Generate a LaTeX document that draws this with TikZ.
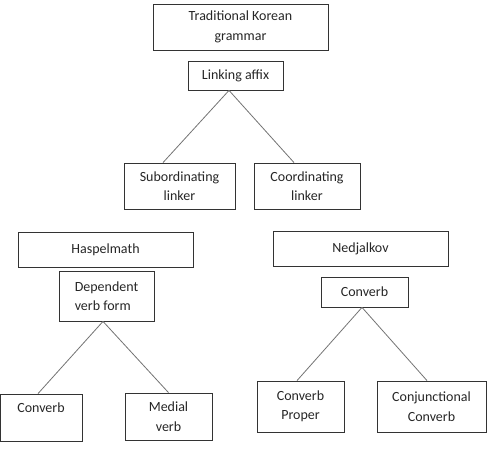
\documentclass[tikz,border=0pt]{standalone}
\usepackage{fontspec}
\setmainfont{Carlito}
\usetikzlibrary{calc}
\begin{document}
\begin{tikzpicture}[x=1pt,y=-1pt,
  box/.style={draw=black!80,line width=0.8pt,inner sep=0pt,align=center,
    font=\fontsize{14}{19.5}\selectfont,text=black!85},
  link/.style={draw=black!55,line width=0.8pt}]
\useasboundingbox (0,0) rectangle (492,449);
\node[box,minimum width=175pt,minimum height=46pt] (tkg) at (240.5,27) {Traditional Korean\\grammar};
\node[box,minimum width=95pt,minimum height=29pt] (la) at (235.5,75.5) {Linking affix};
\node[box,minimum width=111pt,minimum height=46pt] (sub) at (179.5,186) {Subordinating\\linker};
\node[box,minimum width=106pt,minimum height=46pt] (coo) at (307,186) {Coordinating\\linker};
\node[box,minimum width=175pt,minimum height=35pt] (hasp) at (105.5,249.5) {Haspelmath};
\node[box,align=left,minimum width=95pt,minimum height=50pt] (dvf) at (106.5,296) {Dependent\\verb form};
\node[box,minimum width=82pt,minimum height=47pt] (cv1) at (41,417.5) {Converb\\\phantom{x}};
\node[box,minimum width=87pt,minimum height=47pt] (med) at (168.5,416.5) {Medial\\verb};
\node[box,minimum width=175pt,minimum height=35pt] (ned) at (360.5,248.5) {Nedjalkov};
\node[box,minimum width=87pt,minimum height=30pt] (cv2) at (364.5,292) {Converb};
\node[box,minimum width=87pt,minimum height=51pt] (cp) at (300.5,406.5) {Converb\\Proper};
\node[box,minimum width=109pt,minimum height=51pt] (cc) at (431.5,406.5) {Conjunctional\\Converb};
\draw[link] ([xshift=-6.5pt]la.south) -- ([xshift=-16.5pt]sub.north);
\draw[link] ([xshift=-6.5pt]la.south) -- ([xshift=-13pt]coo.north);
\draw[link] ([xshift=-3.5pt]dvf.south) -- ([xshift=-3pt]cv1.north);
\draw[link] ([xshift=-3.5pt]dvf.south) -- (med.north);
\draw[link] ([xshift=-2.5pt]cv2.south) -- ([xshift=-3.5pt]cp.north);
\draw[link] ([xshift=-2.5pt]cv2.south) -- ([xshift=-4.5pt]cc.north);
\end{tikzpicture}
\end{document}
